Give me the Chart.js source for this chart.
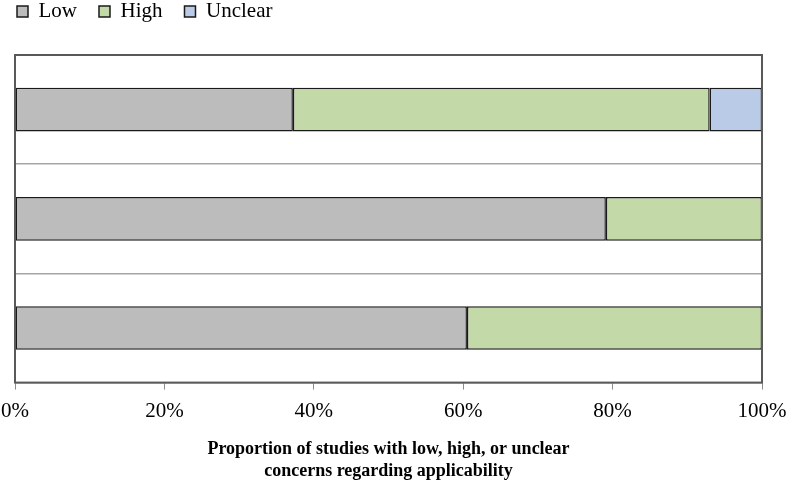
<!DOCTYPE html>
<html>
<head>
<meta charset="utf-8">
<script src="https://cdn.jsdelivr.net/npm/chart.js@4"></script>
<style>
  html, body { margin: 0; padding: 0; background: #fff; }
  #wrap { width: 790px; height: 485px; }
</style>
</head>
<body>
<div id="wrap"><canvas id="chart" width="790" height="485"></canvas></div>
<script>
// Studies rated per domain (no category labels shown in the original)
const categories = ['', '', ''];
const lowValues = [37.2, 79.1, 60.5];
const highValues = [55.8, 20.9, 39.5];
const unclearValues = [7.0, 0, 0];
const xTicks = [0, 20, 40, 60, 80, 100];

const FONT = '"Liberation Serif", "Times New Roman", serif';

// Draws the dark frame round the plot area
const frame = {
    id: 'frame',
    afterDraw(chart) {
        const a = chart.chartArea;
        const ctx = chart.ctx;
        ctx.save();
        ctx.strokeStyle = '#595959';
        ctx.lineWidth = 2;
        ctx.strokeRect(a.left, a.top, a.right - a.left, a.bottom - a.top);
        ctx.restore();
    }
};

// Leaves a larger gap between the legend and the plot
const legendGap = {
    id: 'legendGap',
    afterInit(chart) {
        const legend = chart.legend;
        if (!legend) return;
        const fit = legend.fit;
        legend.fit = function () {
            fit.call(this);
            this.height += 23;
        };
    }
};

const barStyle = {
    borderColor: '#1a1a1a',
    borderWidth: 1.5,
    borderSkipped: false,
    barPercentage: 0.4,
    categoryPercentage: 1
};

new Chart(document.getElementById('chart'), {
    type: 'bar',
    data: {
        labels: categories,
        datasets: [
            { label: 'Low', data: lowValues, backgroundColor: '#bcbcbc', ...barStyle },
            { label: 'High', data: highValues, backgroundColor: '#c3daa8', ...barStyle },
            { label: 'Unclear', data: unclearValues, backgroundColor: '#b9cbe6', ...barStyle }
        ]
    },
    options: {
        indexAxis: 'y',
        responsive: false,
        animation: false,
        layout: { padding: { left: -5, right: 28, top: -21, bottom: 3 } },
        scales: {
            x: {
                stacked: true,
                min: 0,
                max: 100,
                afterBuildTicks: axis => { axis.ticks = xTicks.map(v => ({ value: v })); },
                afterFit: axis => { axis.paddingLeft = 0; axis.paddingRight = 0; },
                ticks: {
                    color: '#000',
                    font: { family: FONT, size: 21 },
                    padding: 9,
                    callback: v => v + '%'
                },
                grid: {
                    drawOnChartArea: false,
                    color: '#8c8c8c',
                    tickLength: 7
                },
                border: { display: false },
                title: {
                    display: true,
                    text: ['Proportion of studies with low, high, or unclear', 'concerns regarding applicability'],
                    color: '#000',
                    font: { family: FONT, size: 18, weight: 'bold', lineHeight: 1.2 },
                    padding: { top: 6, bottom: 0 }
                }
            },
            y: {
                stacked: true,
                afterFit: axis => { axis.width = 20; },
                ticks: { display: false },
                grid: {
                    offset: true,
                    color: '#a6a6a6',
                    lineWidth: 1.5,
                    drawTicks: false
                },
                border: { display: false }
            }
        },
        plugins: {
            legend: {
                position: 'top',
                align: 'start',
                labels: {
                    color: '#000',
                    font: { family: FONT, size: 21 },
                    boxWidth: 11,
                    boxHeight: 11,
                    padding: 22
                }
            },
            tooltip: { enabled: false }
        }
    },
    plugins: [frame, legendGap]
});
</script>
</body>
</html>
